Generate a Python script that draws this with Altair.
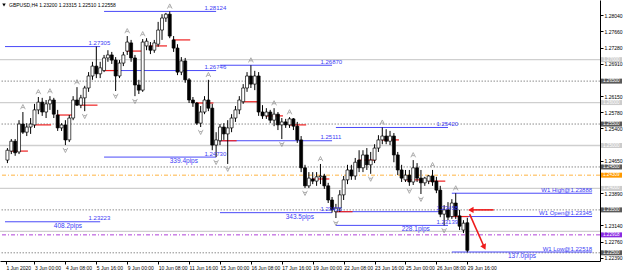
import json
import altair as alt
import pandas as pd

# ---------------- data ----------------
bar_index = list(range(-7, 113))
opens = [1.2466, 1.2487, 1.2510, 1.2485, 1.2550, 1.2531, 1.2543,
         1.2548, 1.2583, 1.2601, 1.2578, 1.2597, 1.2606,
         1.2571, 1.2541, 1.2548, 1.2513, 1.2564, 1.2606,
         1.2594, 1.2611, 1.2634, 1.2662, 1.2685, 1.2667,
         1.26746, 1.2704, 1.2711, 1.2699, 1.2662, 1.2692,
         1.2720, 1.2739, 1.2704, 1.2641, 1.2629, 1.2732,
         1.2732, 1.2722, 1.2736, 1.2769, 1.2797, 1.2806,
         1.2746, 1.2727, 1.2671, 1.2697, 1.2653, 1.2606,
         1.2599, 1.2552, 1.2578, 1.2606, 1.2587, 1.2501,
         1.25111, 1.2543, 1.2527, 1.2541, 1.2564, 1.2583,
         1.2602, 1.2634, 1.2662, 1.2643, 1.2662, 1.2578,
         1.2569, 1.2578, 1.2559, 1.2573, 1.2548, 1.2555,
         1.2548, 1.2562, 1.2545, 1.2513, 1.2448, 1.2406,
         1.2422, 1.2417, 1.2427, 1.2429, 1.2406, 1.2373,
         1.23458, 1.2354, 1.2385, 1.2420, 1.2443, 1.2429,
         1.2466, 1.2448, 1.2478, 1.2455, 1.2466, 1.2494,
         1.2513, 1.2522, 1.2510, 1.2522, 1.2478, 1.2443,
         1.2420, 1.2431, 1.2415, 1.2448, 1.2424, 1.2413,
         1.2417, 1.2429, 1.2417, 1.2396, 1.2340, 1.2350,
         1.23345, 1.2366, 1.2336, 1.2303, 1.23200]
highs = [1.2494, 1.2515, 1.2515, 1.2559, 1.2578, 1.2552, 1.2564,
         1.2597, 1.2613, 1.2611, 1.2606, 1.2615, 1.2611,
         1.2583, 1.2552, 1.2559, 1.2571, 1.2615, 1.2636,
         1.2618, 1.2639, 1.2671, 1.2695, 1.27305, 1.2695,
         1.2711, 1.2722, 1.2718, 1.2706, 1.2699, 1.2718,
         1.2755, 1.2746, 1.2711, 1.2653, 1.2748, 1.2750,
         1.2741, 1.2746, 1.2788, 1.2806, 1.2809, 1.28124,
         1.2755, 1.2736, 1.2706, 1.2704, 1.2657, 1.2613,
         1.2601, 1.2592, 1.2615, 1.2653, 1.2597, 1.2531,
         1.2550, 1.2552, 1.2559, 1.2573, 1.2592, 1.2615,
         1.2643, 1.2671, 1.26870, 1.2674, 1.2671, 1.2594,
         1.2587, 1.2583, 1.2587, 1.2578, 1.2564, 1.2562,
         1.2566, 1.2564, 1.2555, 1.2522, 1.2455, 1.2438,
         1.2438, 1.2438, 1.2457, 1.2434, 1.2413, 1.2380,
         1.2364, 1.2396, 1.2429, 1.2455, 1.2455, 1.2471,
         1.2489, 1.2489, 1.2494, 1.2485, 1.2503, 1.2524,
         1.25420, 1.2538, 1.2534, 1.2529, 1.2485, 1.2455,
         1.2443, 1.2443, 1.2466, 1.2459, 1.2443, 1.2427,
         1.2431, 1.2443, 1.2427, 1.2406, 1.2361, 1.2368,
         1.2375, 1.23888, 1.2350, 1.2326, 1.23315]
lows = [1.2459, 1.2480, 1.2476, 1.2480, 1.2527, 1.2522, 1.2527,
        1.2541, 1.2573, 1.2569, 1.2564, 1.2583, 1.2564,
        1.2534, 1.2534, 1.2501, 1.2508, 1.2559, 1.2592,
        1.2587, 1.2580, 1.2625, 1.2653, 1.2657, 1.2657,
        1.2671, 1.2695, 1.2690, 1.2627, 1.2657, 1.2685,
        1.2711, 1.2695, 1.2615, 1.2620, 1.2625, 1.2722,
        1.2713, 1.2716, 1.2730, 1.2746, 1.2788, 1.2750,
        1.2718, 1.2664, 1.2664, 1.2646, 1.2599, 1.2590,
        1.2548, 1.2543, 1.2573, 1.2580, 1.2489, 1.24730,
        1.2501, 1.2513, 1.2457, 1.2531, 1.2555, 1.2573,
        1.2597, 1.2625, 1.2634, 1.2629, 1.2569, 1.2562,
        1.2562, 1.2552, 1.2545, 1.2536, 1.2515, 1.2541,
        1.2541, 1.2536, 1.2506, 1.2438, 1.2401, 1.2401,
        1.2410, 1.2406, 1.2410, 1.2399, 1.2366, 1.23435,
        1.2331, 1.2345, 1.2373, 1.2410, 1.2420, 1.2420,
        1.2438, 1.2438, 1.2443, 1.2434, 1.2459, 1.2485,
        1.2503, 1.2503, 1.2501, 1.2461, 1.2431, 1.2415,
        1.2415, 1.2406, 1.2408, 1.2415, 1.2387, 1.2406,
        1.2410, 1.2406, 1.2389, 1.2333, 1.23139, 1.2326,
        1.2329, 1.2329, 1.2303, 1.2296, 1.22510]
closes = [1.2489, 1.2510, 1.2483, 1.2550, 1.2531, 1.2543, 1.2550,
          1.2583, 1.2601, 1.2578, 1.2597, 1.2606, 1.2573,
          1.2541, 1.2548, 1.2513, 1.2564, 1.2606, 1.2594,
          1.2611, 1.2634, 1.2662, 1.2685, 1.2667, 1.2681,
          1.2704, 1.2711, 1.2699, 1.2662, 1.2692, 1.2711,
          1.2741, 1.2704, 1.2641, 1.2629, 1.2741, 1.2743,
          1.2722, 1.2739, 1.2769, 1.2797, 1.2806, 1.2755,
          1.2727, 1.2671, 1.2697, 1.2653, 1.2606, 1.2599,
          1.2552, 1.2578, 1.2606, 1.2587, 1.2501, 1.2513,
          1.2543, 1.2527, 1.2541, 1.2564, 1.2583, 1.2606,
          1.2634, 1.2662, 1.2643, 1.2662, 1.2578, 1.2569,
          1.2578, 1.2559, 1.2573, 1.2548, 1.2555, 1.2548,
          1.2562, 1.2545, 1.2513, 1.2448, 1.2406, 1.2424,
          1.2417, 1.2427, 1.2429, 1.2406, 1.2373, 1.2350,
          1.2354, 1.2385, 1.2420, 1.2443, 1.2429, 1.2461,
          1.2448, 1.2478, 1.2455, 1.2466, 1.2494, 1.2513,
          1.2522, 1.2510, 1.2522, 1.2478, 1.2443, 1.2424,
          1.2431, 1.2415, 1.2448, 1.2424, 1.2413, 1.2424,
          1.2429, 1.2415, 1.2396, 1.2340, 1.2350, 1.2333,
          1.2366, 1.2336, 1.2312, 1.2319, 1.22558]

x_ticks = [-7.4, 0, 8, 16, 24, 32, 40, 48, 56, 64, 72, 80, 88, 96, 104, 112]
x_labels = ["1 Jun 2020", "3 Jun 00:00", "4 Jun 08:00", "5 Jun 16:00", "9 Jun 00:00",
            "10 Jun 08:00", "11 Jun 16:00", "15 Jun 00:00", "16 Jun 08:00", "17 Jun 16:00",
            "19 Jun 00:00", "22 Jun 08:00", "23 Jun 16:00", "25 Jun 00:00", "26 Jun 08:00",
            "29 Jun 16:00"]
# price-scale labels (those hidden under the level boxes are left out)
y_ticks = [1.28040, 1.27660, 1.27280, 1.26910, 1.26150, 1.25780, 1.25400,
           1.24650, 1.23890, 1.23140, 1.22760, 1.22390]

# weekly ranges
week_start = [-7.63, 18, 48, 78]
week_end = [17, 47, 77, 107]
week_high = [1.27305, 1.28124, 1.26870, 1.25420]
week_low = [1.23223, 1.24730, 1.23435, 1.23139]
week_open = [None, 1.26746, 1.25111, 1.23458]
cur_start, cur_end = 108, 144.3
cur_open, cur_high, cur_low = 1.23345, 1.23888, 1.22518

# fractal bars
fractal_up = [-3, 1, 4, 11, 24, 28, 35, 45, 56, 62, 66, 74, 90, 98, 103, 109]
fractal_down = [8, 13, 21, 26, 43, 47, 50, 64, 70, 78, 87, 97, 100, 106]

# price levels
full_levels = [1.27, 1.26, 1.25, 1.24, 1.23]
half_levels = [1.265, 1.255, 1.245, 1.235, 1.225]
orange_level = 1.24309
purple_level = 1.22918
box_levels = [1.27, 1.26, 1.25, 1.24, 1.265, 1.255, 1.245, 1.235, 1.225, orange_level, purple_level]
box_kinds = ["full"] * 4 + ["half"] * 5 + ["orange", "purple"]

# red annotation arrows (bar index, price)
arrow_x = [118.8, 112.6]
arrow_y = [1.2350, 1.2340]
arrow_x2 = [112.9, 116.4]
arrow_y2 = [1.2350, 1.2263]
arrow_angle = [270, 154]

title_text = "GBPUSD,H4  1.23200 1.23315 1.22510 1.22558"

# ---------------- frames ----------------
FONT = "Liberation Sans"
BLUE = "#3b3bf5"
candles = pd.DataFrame({"i": bar_index, "open": opens, "high": highs,
                        "low": lows, "close": closes})
cmap = dict(zip(bar_index, zip(opens, highs, lows, closes)))

xs = alt.Scale(domain=[-7.63, 145.04], nice=False, zero=False)
ys = alt.Scale(domain=[1.22309, 1.28390], nice=False, zero=False)

x_axis = alt.Axis(values=x_ticks, title=None, orient="bottom",
                  labelExpr=f"{json.dumps(x_labels)}[indexof({json.dumps(x_ticks)}, datum.value)]",
                  tickSize=3, tickColor="black", domainColor="black", domainWidth=1,
                  labelFontSize=5, labelFont=FONT, labelColor="black", labelAlign="left",
                  labelPadding=1, labelOverlap=False, labelFlush=False, labelBound=False,
                  grid=False)
y_axis = alt.Axis(values=y_ticks, title=None, orient="right", format=".5f",
                  tickSize=3, tickColor="black", domainColor="black", domainWidth=1,
                  labelFontSize=5, labelFont=FONT, labelColor="black", labelPadding=1,
                  labelOverlap=False, labelFlush=False, labelBound=False, grid=False)

X = lambda f: alt.X(f, scale=xs, axis=x_axis)
Y = lambda f: alt.Y(f, scale=ys, axis=y_axis)

# level lines
lv_full = alt.Chart(pd.DataFrame({"y": full_levels})).mark_rule(
    color="#cfcfcf", strokeWidth=1.3).encode(y=Y("y:Q"))
lv_half = alt.Chart(pd.DataFrame({"y": half_levels})).mark_rule(
    color="#707070", strokeWidth=0.8, strokeDash=[1.5, 1.5]).encode(y=Y("y:Q"))
lv_orange = alt.Chart(pd.DataFrame({"y": [orange_level]})).mark_rule(
    color="#ffb340", strokeWidth=1, strokeDash=[4, 2, 1, 2]).encode(y=Y("y:Q"))
lv_purple = alt.Chart(pd.DataFrame({"y": [purple_level]})).mark_rule(
    color="#b040d8", strokeWidth=1, strokeDash=[4, 2, 1, 2]).encode(y=Y("y:Q"))

# weekly lines
wrows = []
for s, e, h, l, o in zip(week_start, week_end, week_high, week_low, week_open):
    for p in (h, l, o):
        if p is not None:
            wrows.append({"x": s, "x2": e, "y": p})
for p in (cur_high, cur_open, cur_low):
    wrows.append({"x": cur_start, "x2": cur_end, "y": p})
week_lines = alt.Chart(pd.DataFrame(wrows)).mark_rule(color="#4a4af8", strokeWidth=1).encode(
    x=X("x:Q"), x2="x2:Q", y=Y("y:Q"))

# daily open lines
drows = []
for s in range(-6, 113, 6):
    drows.append({"x": s - 0.2, "x2": s + 4.3, "y": cmap[s][0]})
day_lines = alt.Chart(pd.DataFrame(drows)).mark_rule(color="#ee2020", strokeWidth=1.2).encode(
    x=X("x:Q"), x2="x2:Q", y=Y("y:Q"))

# candles
wicks = alt.Chart(candles).mark_rule(color="black", strokeWidth=1).encode(
    x=X("i:Q"), y=Y("low:Q"), y2="high:Q")
bodies = alt.Chart(candles).mark_bar(size=3, stroke="black", strokeWidth=0.7).encode(
    x=X("i:Q"), y=Y("open:Q"), y2="close:Q",
    fill=alt.condition("datum.close >= datum.open", alt.value("white"), alt.value("black")))

# fractals
fu = pd.DataFrame({"i": fractal_up, "y": [cmap[k][1] + 0.0012 for k in fractal_up]})
fd = pd.DataFrame({"i": fractal_down, "y": [cmap[k][2] - 0.0012 for k in fractal_down]})
frac_up = alt.Chart(fu).mark_point(
    shape="M-1,1L0,-1L1,1M-0.5,0.3L0.5,0.3", size=22, filled=False,
    stroke="#8c8c8c", strokeWidth=1).encode(x=X("i:Q"), y=Y("y:Q"))
frac_dn = alt.Chart(fd).mark_point(
    shape="M-1,-1L0,1L1,-1M-0.5,-0.3L0.5,-0.3", size=22, filled=False,
    stroke="#8c8c8c", strokeWidth=1).encode(x=X("i:Q"), y=Y("y:Q"))

# labels
prow, pips = [], []
for s, e, h, l, o in zip(week_start, week_end, week_high, week_low, week_open):
    for p in (h, l, o):
        if p is not None:
            prow.append({"x": e - 3, "y": p, "t": f"{p:.5f}"})
    pips.append({"x": e - 4.7, "y": l, "t": f"{(h - l) * 1e4:.1f}pips"})
price_lbl = alt.Chart(pd.DataFrame(prow)).mark_text(
    align="left", baseline="bottom", dy=-0.5, fontSize=6, font=FONT, color=BLUE).encode(
    x=X("x:Q"), y=Y("y:Q"), text="t:N")
pips_lbl = alt.Chart(pd.DataFrame(pips)).mark_text(
    align="right", baseline="top", dy=1, fontSize=6.5, font=FONT, color=BLUE).encode(
    x=X("x:Q"), y=Y("y:Q"), text="t:N")
cur_rows = [{"x": cur_end, "y": cur_high, "t": f"W1 High@{cur_high:.5f}"},
            {"x": cur_end, "y": cur_open, "t": f"W1 Open@{cur_open:.5f}"},
            {"x": cur_end, "y": cur_low, "t": f"W1 Low@{cur_low:.5f}"}]
cur_lbl = alt.Chart(pd.DataFrame(cur_rows)).mark_text(
    align="right", baseline="bottom", dy=-0.5, fontSize=6, font=FONT, color=BLUE).encode(
    x=X("x:Q"), y=Y("y:Q"), text="t:N")
cur_pips = alt.Chart(pd.DataFrame([{"x": (cur_start + cur_end) / 2, "y": cur_low,
                                     "t": f"{(cur_high - cur_low) * 1e4:.1f}pips"}])).mark_text(
    align="center", baseline="top", dy=1, fontSize=6.5, font=FONT, color=BLUE).encode(
    x=X("x:Q"), y=Y("y:Q"), text="t:N")

# arrows
arr = pd.DataFrame({"x": arrow_x, "y": arrow_y, "x2": arrow_x2, "y2": arrow_y2, "a": arrow_angle})
arrow_lines = alt.Chart(arr).mark_rule(color="#ee1c1c", strokeWidth=1.6).encode(
    x=X("x:Q"), y=Y("y:Q"), x2="x2:Q", y2="y2:Q")
arrow_heads = alt.Chart(arr).mark_point(shape="triangle-up", filled=True, size=40,
                                        color="#ee1c1c", opacity=1).encode(
    x=X("x2:Q"), y=Y("y2:Q"), angle=alt.Angle("a:Q", scale=None))

# level boxes on the price scale
bx = pd.DataFrame({"p": box_levels, "k": box_kinds})
bx["t"] = bx["p"].map(lambda v: f"{v:.5f}")
bx["y1"] = bx["p"] + 0.00058
bx["y2"] = bx["p"] - 0.00058
box_rect = alt.Chart(bx).mark_rect().encode(
    x=alt.value(601), x2=alt.value(622), y=Y("y1:Q"), y2="y2:Q",
    fill=alt.Fill("k:N", legend=None, scale=alt.Scale(
        domain=["full", "half", "orange", "purple"],
        range=["#cccccc", "#5a5a5a", "#ff9a00", "#8a2be2"])))
box_txt = alt.Chart(bx).mark_text(align="left", baseline="middle", fontSize=4.6, font=FONT,
                                  color="white").encode(
    x=alt.value(603), y=Y("p:Q"), text="t:N")

# title
title_tri = alt.Chart(pd.DataFrame({"t": ["x"]})).mark_point(
    shape="triangle-down", filled=True, size=12, color="black", opacity=1).encode(
    x=alt.value(4), y=alt.value(5))
title_lbl = alt.Chart(pd.DataFrame({"t": [title_text]})).mark_text(
    align="left", baseline="middle", fontSize=5, font=FONT, color="black").encode(
    x=alt.value(9), y=alt.value(5), text="t:N")

chart = alt.layer(
    lv_full, lv_half, lv_orange, lv_purple, week_lines, day_lines,
    wicks, bodies, frac_up, frac_dn, price_lbl, pips_lbl, cur_lbl, cur_pips,
    arrow_lines, arrow_heads, box_rect, box_txt, title_tri, title_lbl
).properties(
    width=600, height=261, background="white",
    padding={"left": 0, "top": 0, "right": 25, "bottom": 11},
    autosize=alt.AutoSizeParams(type="none")
).configure_view(stroke=None)

chart.save("out.html", embed_options={"renderer": "svg", "actions": False})
